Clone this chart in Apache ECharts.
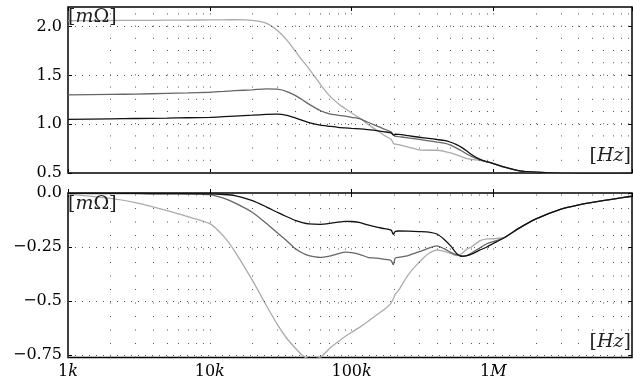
<!DOCTYPE html>
<html><head><meta charset="utf-8">
<script src="https://cdn.jsdelivr.net/npm/echarts@6/dist/echarts.min.js"></script>
<style>html,body{margin:0;padding:0;background:#fff}#c{width:633px;height:383px}</style>
</head><body><div id="c"></div>
<script>
// ---- data (frequency in Hz) ----
const freq = [1e3,2e3,3e3,5e3,7e3,1e4,1.25e4,1.5e4,2e4,2.5e4,3e4,3.5e4,4e4,
  4.5e4,5e4,6e4,7e4,8e4,9e4,1e5,1.15e5,1.3e5,1.5e5,
  1.7e5,1.9e5,1.97e5,2.03e5,2.15e5,2.5e5,3e5,3.5e5,4e5,4.5e5,
  5e5,5.5e5,6e5,6.5e5,7e5,8e5,9e5,1e6,1.2e6,1.5e6,
  2e6,3e6,4e6,5e6,7e6,9.5e6];

// upper panel [mΩ]
const topBlack = [1.05,1.055,1.058,1.062,1.066,1.07,1.077,1.083,1.092,1.10,1.103,1.09,1.065,
  1.04,1.015,0.99,0.978,0.968,0.962,0.957,0.952,0.945,0.935,
  0.922,0.912,0.888,0.897,0.895,0.882,0.866,0.855,0.843,0.833,
  0.815,0.79,0.76,0.725,0.69,0.642,0.615,0.597,0.56,0.525,
  0.508,0.499,0.497,0.496,0.495,0.494];
const topDark = [1.30,1.305,1.308,1.315,1.32,1.327,1.335,1.343,1.352,1.362,1.358,1.334,1.295,
  1.25,1.205,1.14,1.105,1.092,1.082,1.07,1.055,1.02,0.983,
  0.95,0.922,0.89,0.878,0.872,0.86,0.845,0.83,0.816,0.805,
  0.785,0.755,0.725,0.695,0.67,0.637,0.615,0.597,0.56,0.525,
  0.508,0.499,0.497,0.496,0.495,0.494];
const topLight = [2.06,2.062,2.063,2.065,2.066,2.068,2.069,2.07,2.064,2.035,1.96,1.86,1.75,
  1.65,1.57,1.41,1.29,1.215,1.16,1.115,1.06,1.0,0.94,
  0.885,0.845,0.805,0.795,0.79,0.765,0.737,0.733,0.733,0.722,
  0.705,0.685,0.665,0.648,0.64,0.63,0.617,0.597,0.56,0.525,
  0.508,0.499,0.497,0.496,0.495,0.494];

// lower panel [mΩ]
const botBlack = [-0.002,-0.002,-0.002,-0.003,-0.003,-0.004,-0.007,-0.012,-0.035,-0.064,-0.09,-0.11,-0.127,
  -0.137,-0.143,-0.145,-0.141,-0.135,-0.131,-0.132,-0.137,-0.148,-0.158,
  -0.165,-0.172,-0.192,-0.178,-0.176,-0.177,-0.179,-0.181,-0.19,-0.215,
  -0.245,-0.28,-0.293,-0.29,-0.283,-0.265,-0.25,-0.234,-0.206,-0.165,
  -0.12,-0.075,-0.055,-0.043,-0.028,-0.015];
const botDark = [-0.002,-0.003,-0.003,-0.004,-0.005,-0.008,-0.024,-0.046,-0.09,-0.14,-0.185,-0.222,-0.257,
  -0.278,-0.29,-0.298,-0.292,-0.282,-0.274,-0.276,-0.285,-0.298,-0.302,
  -0.307,-0.313,-0.332,-0.302,-0.298,-0.29,-0.272,-0.255,-0.245,-0.258,
  -0.275,-0.287,-0.293,-0.29,-0.278,-0.255,-0.235,-0.225,-0.206,-0.165,
  -0.12,-0.075,-0.055,-0.043,-0.028,-0.015];
const botLight = [-0.005,-0.025,-0.045,-0.082,-0.11,-0.142,-0.2,-0.27,-0.405,-0.52,-0.61,-0.674,-0.718,
  -0.752,-0.768,-0.762,-0.72,-0.69,-0.665,-0.645,-0.62,-0.595,-0.565,
  -0.54,-0.51,-0.49,-0.47,-0.45,-0.38,-0.32,-0.28,-0.265,-0.27,
  -0.28,-0.29,-0.28,-0.26,-0.25,-0.222,-0.213,-0.212,-0.206,-0.165,
  -0.12,-0.075,-0.055,-0.043,-0.028,-0.015];

// ticks
const xTickValues = [1e3,1e4,1e5,1e6];
const xTickNums = ['1','10','100','1'];
const xTickUnits = ['k','k','k','M'];
const yTopTicks = [0.5,1.0,1.5,2.0];
const yTopLabels = ['0.5','1.0','1.5','2.0'];
const yBotTicks = [0,-0.25,-0.5,-0.75];
const yBotLabels = ['0.0','\u22120.25','\u22120.5','\u22120.75'];

// ---- chart ----
const FONT = 'DejaVu Serif';
const X_MIN = 1000, X_MAX = 9.5e6;
const TOP_MIN = 0.5, TOP_MAX = 2.2, BOT_MIN = -0.762, BOT_MAX = 0;

// vertical grid positions (1..9 per decade)
const vGrid = [];
[1e3,1e4,1e5,1e6].forEach(d => { for (let k = 1; k <= 9; k++) { if (d*k < X_MAX) vGrid.push(d*k); } });

function xAxisDef(gi, pos, labels) {
  return {
    type: 'log', logBase: 10, gridIndex: gi, position: pos, min: X_MIN, max: X_MAX,
    axisLine: {show: false},
    axisTick: {show: true, inside: true, length: 4, lineStyle: {color: '#000', width: 1}},
    splitLine: {show: false},
    axisLabel: {
      show: labels, margin: 6, showMaxLabel: false,
      formatter: function (v) {
        for (let i = 0; i < xTickValues.length; i++) {
          if (Math.abs(Math.log10(v) - Math.log10(xTickValues[i])) < 1e-6) return '{n|' + xTickNums[i] + '}{u|' + xTickUnits[i] + '}';
        }
        return '';
      },
      rich: {
        n: {fontFamily: FONT, fontSize: 16, color: '#000'},
        u: {fontFamily: FONT, fontSize: 16, fontStyle: 'italic', color: '#000'}
      }
    }
  };
}
function yAxisDef(gi, pos, min, max, ticks, labels, show) {
  return {
    type: 'value', gridIndex: gi, position: pos, min: min, max: max,
    axisLine: {show: false},
    axisTick: {show: true, inside: true, length: 4, customValues: ticks, lineStyle: {color: '#000', width: 1}},
    splitLine: {show: false},
    axisLabel: {
      show: show, margin: 6, customValues: ticks,
      fontFamily: FONT, fontSize: 16, color: '#000',
      formatter: function (v) {
        for (let i = 0; i < ticks.length; i++) if (Math.abs(v - ticks[i]) < 1e-9) return labels[i];
        return '';
      }
    }
  };
}
function gridMarks(hVals, vPeriod) {
  const data = vGrid.map(f => ({xAxis: f, lineStyle: {type: [1, vPeriod - 1]}}))
    .concat(hVals.map(v => ({yAxis: v, lineStyle: {type: [1, 6]}})));
  return {
    silent: true, symbol: 'none', animation: false,
    label: {show: false},
    lineStyle: {color: '#444', width: 1, opacity: 0.9},
    emphasis: {disabled: true},
    data: data
  };
}
function line(xi, yi, vals, color, z, marks) {
  const s = {
    type: 'line', xAxisIndex: xi, yAxisIndex: yi,
    data: freq.map((f, i) => [f, vals[i]]),
    showSymbol: false, symbol: 'none', clip: true, z: z,
    smooth: 0.2,
    lineStyle: {color: color, width: 1.3},
    animation: false
  };
  if (marks) s.markLine = marks;
  return s;
}
const unitRich = {
  b: {fontFamily: FONT, fontSize: 19, fontWeight: 'normal', color: '#222'},
  i: {fontFamily: FONT, fontSize: 19, fontWeight: 'normal', fontStyle: 'italic', color: '#222'}
};

const chart = echarts.init(document.getElementById('c'));
chart.setOption({
  animation: false,
  backgroundColor: '#fff',
  grid: [
    {left: 68, right: 1, top: 7, height: 166, show: true, borderColor: '#000', borderWidth: 1.5, backgroundColor: 'transparent'},
    {left: 68, right: 1, top: 193, height: 164.5, show: true, borderColor: '#000', borderWidth: 1.5, backgroundColor: 'transparent'}
  ],
  title: [
    {text: '{b|[}{i|m}{b|Ω]}', left: 68, top: 8, padding: 0, textStyle: {fontWeight: 'normal', rich: unitRich}},
    {text: '{b|[}{i|Hz}{b|]}', right: 2, top: 147, padding: 0, textStyle: {fontWeight: 'normal', rich: unitRich}},
    {text: '{b|[}{i|m}{b|Ω]}', left: 68, top: 195, padding: 0, textStyle: {fontWeight: 'normal', rich: unitRich}},
    {text: '{b|[}{i|Hz}{b|]}', right: 2, top: 333, padding: 0, textStyle: {fontWeight: 'normal', rich: unitRich}}
  ],
  xAxis: [
    xAxisDef(0, 'bottom', false),
    xAxisDef(0, 'top', false),
    xAxisDef(1, 'bottom', true),
    xAxisDef(1, 'top', false)
  ],
  yAxis: [
    yAxisDef(0, 'left', TOP_MIN, TOP_MAX, yTopTicks, yTopLabels, true),
    yAxisDef(0, 'right', TOP_MIN, TOP_MAX, yTopTicks, yTopLabels, false),
    yAxisDef(1, 'left', BOT_MIN, BOT_MAX, yBotTicks, yBotLabels, true),
    yAxisDef(1, 'right', BOT_MIN, BOT_MAX, yBotTicks, yBotLabels, false)
  ],
  series: [
    line(0, 0, topLight, '#ababab', 2, gridMarks([1.0, 1.5, 2.0], 12.2)),
    line(0, 0, topDark, '#666666', 3),
    line(0, 0, topBlack, '#111111', 4),
    line(2, 2, botLight, '#ababab', 2, gridMarks([-0.25, -0.5, -0.75], 13.5)),
    line(2, 2, botDark, '#666666', 3),
    line(2, 2, botBlack, '#111111', 4)
  ]
});
</script>
</body></html>
